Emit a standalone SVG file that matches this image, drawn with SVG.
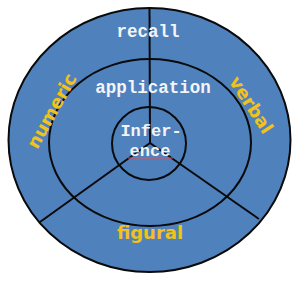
<svg xmlns="http://www.w3.org/2000/svg" width="306" height="283" viewBox="0 0 306 283">
<style>
.ring{fill:#4f81bd;stroke:#0a0a0a;stroke-width:2}
.sp{stroke:#0a0a0a;stroke-width:2;fill:none}
.lvl{font-family:"Liberation Mono","Courier New",monospace;font-size:17.5px;font-weight:bold;fill:#f4f4f4;text-anchor:middle}
.inf{font-size:17px}
.dom{font-family:"DejaVu Sans",Verdana,sans-serif;font-size:18px;font-weight:bold;fill:#f2c21b;text-anchor:middle}
</style>
<rect width="306" height="283" fill="#ffffff"/>
<g id="outer"><ellipse class="ring" cx="149.5" cy="140" rx="141" ry="132"/></g>
<g id="middle"><ellipse class="ring" cx="150" cy="142.5" rx="101" ry="83.5"/></g>
<g id="inner"><ellipse class="ring" cx="149" cy="143.5" rx="37" ry="36.5"/></g>
<g id="connectors">
<line class="sp" x1="150" y1="143" x2="149.5" y2="8"/>
<line class="sp" x1="150" y1="143" x2="40" y2="222"/>
<line class="sp" x1="150" y1="143" x2="259" y2="219"/>
</g>
<g id="recall"><text class="lvl" x="148" y="37">recall</text></g>
<g id="application"><text class="lvl" x="153" y="93">application</text></g>
<g id="inference">
<text class="lvl inf" x="151" y="136">Infer-</text>
<text class="lvl inf" x="150" y="156">ence</text>
<line x1="128" y1="158" x2="173" y2="158" stroke="#e0505a" stroke-width="1"/>
</g>
<g id="numeric"><text class="dom" transform="translate(52,111) rotate(-61)" x="0" y="6">numeric</text></g>
<g id="verbal"><text class="dom" transform="translate(251,105) rotate(57)" x="0" y="6">verbal</text></g>
<g id="figural"><text class="dom" x="150" y="239">figural</text></g>
</svg>
